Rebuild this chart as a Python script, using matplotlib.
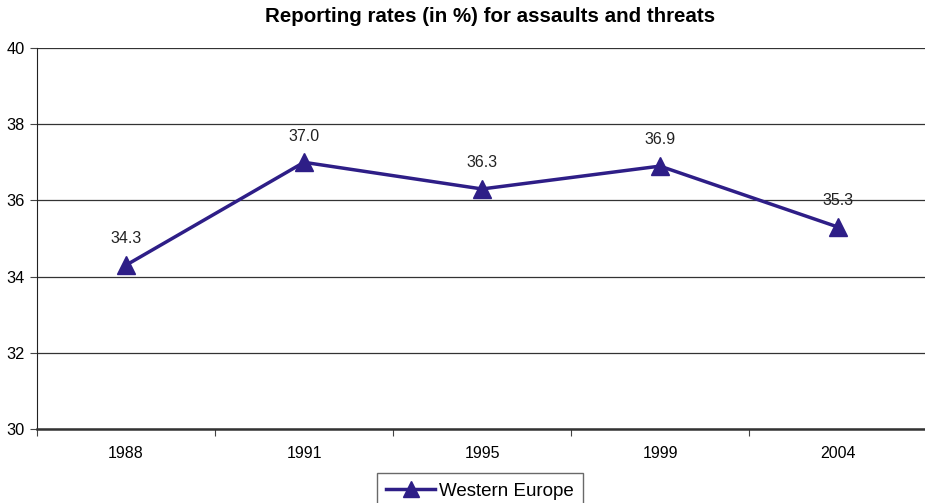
import matplotlib
matplotlib.use("Agg")
import matplotlib.pyplot as plt
import numpy as np

years = ["1988", "1991", "1995", "1999", "2004"]
western_europe = [34.3, 37.0, 36.3, 36.9, 35.3]
value_labels = ["34.3", "37.0", "36.3", "36.9", "35.3"]
y_ticks = [30, 32, 34, 36, 38, 40]

plt.rcParams['font.family'] = ['Liberation Sans', 'DejaVu Sans']
color = '#2E1E87'

fig = plt.figure(figsize=(9.25, 5.03), dpi=100)
ax = fig.add_axes([37/925, 1-429/503, 890/925, (429-48)/503])

x = np.arange(len(years))
line, = ax.plot(x, western_europe, color=color, lw=2.5, marker='^', ms=13.5,
                markerfacecolor=color, markeredgecolor=color, label='Western Europe',
                zorder=3)
for xi, v, t in zip(x, western_europe, value_labels):
    ax.annotate(t, (xi, v), xytext=(0, 13.5), textcoords='offset points',
                ha='center', va='bottom', fontsize=11.5, color='#222222')

ax.set_xlim(-0.5, len(years) - 0.5)
ax.set_ylim(30, 40)
ax.set_yticks(y_ticks)
ax.set_yticklabels([str(v) for v in y_ticks], fontsize=11.8)
ax.set_xticks(np.arange(len(years) + 1) - 0.5)
ax.set_xticklabels([])
ax.set_xticks(x, minor=True)
ax.set_xticklabels(years, minor=True, fontsize=11.5)
ax.tick_params(axis='x', which='minor', length=0, pad=12)
ax.tick_params(axis='x', which='major', length=5, direction='out', color='#444444')
ax.tick_params(axis='y', length=5, direction='out', color='#444444', pad=4)
ax.yaxis.grid(True, color='#333333', lw=0.9)
ax.set_axisbelow(True)
for s in ['top', 'right']:
    ax.spines[s].set_visible(False)
ax.spines['left'].set_color('#222222')
ax.spines['bottom'].set_color('#333333')
ax.spines['bottom'].set_linewidth(1.8)

fig.text(490/925, 1-17/503, 'Reporting rates (in %) for assaults and threats',
         ha='center', va='center', fontsize=14.8, fontweight='bold')

leg = fig.legend(handles=[line], loc='upper center', bbox_to_anchor=(480/925, 1-473/503),
                 frameon=True, fancybox=False, edgecolor='#444444', fontsize=13.5,
                 handlelength=2.6, borderpad=0.5, handletextpad=0.2, markerscale=0.85,
                 borderaxespad=0)
leg.get_frame().set_linewidth(1.0)

fig.savefig('out.png', dpi=100)
